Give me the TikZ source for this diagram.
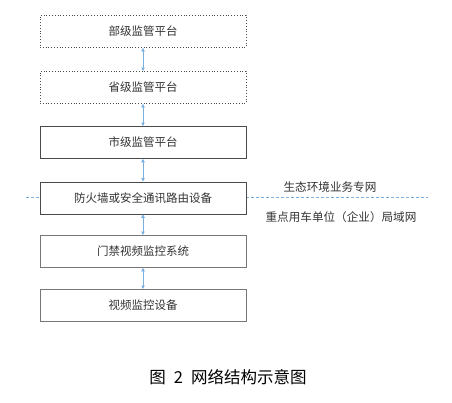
\documentclass[tikz,border=0pt]{standalone}
\usepackage{fontspec}
\newfontfamily\cjk{Noto Sans CJK SC}
\usetikzlibrary{arrows.meta}
\definecolor{boxtxt}{HTML}{333333}
\definecolor{boxline}{HTML}{4A4A4A}
\definecolor{arrblue}{HTML}{7AB0E0}
\tikzset{
  box/.style={draw=boxline, line width=0.8pt, fill=white, minimum width=206pt, minimum height=32pt, inner sep=0pt,
    font=\cjk\fontsize{11.5}{13}\selectfont, text=boxtxt, anchor=north},
  dotbox/.style={box, dotted, line width=0.9pt},
  link/.style={draw=arrblue, line width=0.8pt, {Triangle[width=3.5pt,length=3.5pt]}-{Triangle[width=3.5pt,length=3.5pt]}},
  netline/.style={draw=arrblue, line width=0.7pt, dash pattern=on 3pt off 2pt},
  lbl/.style={font=\cjk\fontsize{11.6}{13}\selectfont, text=boxtxt},
}
\begin{document}
\begin{tikzpicture}[x=1pt,y=-1pt]
\useasboundingbox (0,0) rectangle (452,402);
\coordinate (L) at (26,197);
\coordinate (R) at (428,197);
\draw[netline] (L) -- (R);
\node[dotbox] (b1) at (143,15) {部级监管平台};
\node[dotbox] (b2) at (143,71) {省级监管平台};
\node[box] (b3) at (143,126) {市级监管平台};
\node[box] (b4) at (143,181.5) {防火墙或安全通讯路由设备};
\node[box, draw=boxline!75] (b5) at (143,235) {门禁视频监控系统};
\node[box, draw=boxline!75] (b6) at (143,289) {视频监控设备};
\draw[link] (b1.south) -- (b2.north);
\draw[link] (b2.south) -- (b3.north);
\draw[link] (b3.south) -- (b4.north);
\draw[link] (b4.south) -- (b5.north);
\draw[link] (b5.south) -- (b6.north);
\node[lbl] (t1) at (330,187) {生态环境业务专网};
\node[lbl] (t2) at (341,217) {重点用车单位（企业）局域网};
\node[font=\cjk\fontsize{16.5}{19}\selectfont, text=black] (cap) at (228,377) {图\hspace{8pt}2\hspace{8pt}网络结构示意图};
\end{tikzpicture}
\end{document}
